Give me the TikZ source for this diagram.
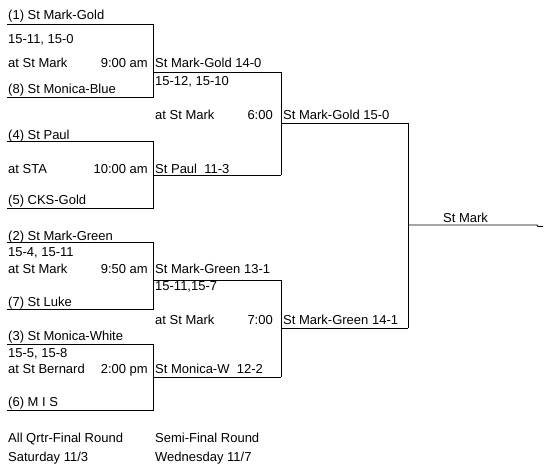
\documentclass[tikz,border=0pt]{standalone}
\usepackage{fontspec}
\setmainfont{Liberation Sans}
\begin{document}
\begin{tikzpicture}[x=1pt,y=-1pt,
  line/.style={draw=black,line width=0.9pt},
  txt/.style={inner sep=0pt,anchor=base west,font=\fontsize{13}{15}\selectfont},
  rtxt/.style={inner sep=0pt,anchor=base east,font=\fontsize{13}{15}\selectfont}]
\useasboundingbox[fill=white] (0,0) rectangle (556,468);
% bracket coordinates
\coordinate (q1a) at (7,24);   \coordinate (q1ar) at (153,24);
\coordinate (q1b) at (7,97);   \coordinate (q1br) at (153,97);
\coordinate (q1o) at (153,72); \coordinate (s1t) at (281,72);
\coordinate (q2a) at (7,141);  \coordinate (q2ar) at (153,141);
\coordinate (q2b) at (7,208);  \coordinate (q2br) at (153,208);
\coordinate (q2o) at (153,175);\coordinate (s1b) at (281,175);
\coordinate (s1o) at (281,123);\coordinate (ft) at (408,123);
\coordinate (q3a) at (7,242);  \coordinate (q3ar) at (153,242);
\coordinate (q3b) at (7,309);  \coordinate (q3br) at (153,309);
\coordinate (q3o) at (153,280);\coordinate (s2t) at (281,280);
\coordinate (q4a) at (7,344);  \coordinate (q4ar) at (153,344);
\coordinate (q4b) at (7,410);  \coordinate (q4br) at (153,410);
\coordinate (q4o) at (153,377);\coordinate (s2b) at (281,377);
\coordinate (s2o) at (281,328);\coordinate (fb) at (408,328);
\coordinate (fo) at (408,225); \coordinate (ch) at (537,225);
\coordinate (ch2) at (538,226.5); \coordinate (ch3) at (543,226.5);
% lines
\draw[line] (q1a) -- (q1ar) -- (q1br) -- (q1b);
\draw[line] (q1o) -- (s1t);
\draw[line] (q2a) -- (q2ar) -- (q2br) -- (q2b);
\draw[line] (q2o) -- (s1b);
\draw[line] (s1t) -- (s1b);
\draw[line] (s1o) -- (ft);
\draw[line] (q3a) -- (q3ar) -- (q3br) -- (q3b);
\draw[line] (q3o) -- (s2t);
\draw[line] (q4a) -- (q4ar) -- (q4br) -- (q4b);
\draw[line] (q4o) -- (s2b);
\draw[line] (s2t) -- (s2b);
\draw[line] (s2o) -- (fb);
\draw[line] (ft) -- (fb);
\draw[line] (fo) -- (ch) -- (ch2) -- (ch3);
% quarter 1
\node[txt] (t1) at (8,20) {(1) St Mark-Gold};
\node[txt] (t1s) at (8,44) {15-11, 15-0};
\node[txt] (t1v) at (8,68) {at St Mark};
\node[rtxt] (t1t) at (148,68) {9:00 am};
\node[txt] (t8) at (8,94) {(8) St Monica-Blue};
% quarter 2
\node[txt] (t4) at (8,139) {(4) St Paul};
\node[txt] (t2v) at (8,173) {at STA};
\node[rtxt] (t2t) at (148,173) {10:00 am};
\node[txt] (t5) at (8,204) {(5) CKS-Gold};
% quarter 3
\node[txt] (t2) at (8,240) {(2) St Mark-Green};
\node[txt] (t3s) at (8,256) {15-4, 15-11};
\node[txt] (t3v) at (8,273) {at St Mark};
\node[rtxt] (t3t) at (148,273) {9:50 am};
\node[txt] (t7) at (8,306) {(7) St Luke};
% quarter 4
\node[txt] (t3) at (8,340) {(3) St Monica-White};
\node[txt] (t4s) at (8,357) {15-5, 15-8};
\node[txt] (t4v) at (8,373) {at St Bernard};
\node[rtxt] (t4t) at (148,373) {2:00 pm};
\node[txt] (t6) at (8,406) {(6) M I S};
% semi 1
\node[txt] (w1) at (155,68) {St Mark-Gold 14-0};
\node[txt] (w1s) at (155,86) {15-12, 15-10};
\node[txt] (s1v) at (155,119) {at St Mark};
\node[rtxt] (s1tm) at (273,119) {6:00};
\node[txt] (w2) at (155,173) {St Paul\ \ 11-3};
% semi 2
\node[txt] (w3) at (155,273) {St Mark-Green 13-1};
\node[txt] (w3s) at (155,290) {15-11,15-7};
\node[txt] (s2v) at (155,324) {at St Mark};
\node[rtxt] (s2tm) at (273,324) {7:00};
\node[txt] (w4) at (155,373) {St Monica-W\ \ 12-2};
% final
\node[txt] (f1) at (283,119) {St Mark-Gold 15-0};
\node[txt] (f2) at (283,324) {St Mark-Green 14-1};
\node[txt] (champ) at (443,222) {St Mark};
% footer
\node[txt] (r1) at (8,442) {All Qrtr-Final Round};
\node[txt] (r1d) at (8,461) {Saturday 11/3};
\node[txt] (r2) at (155,442) {Semi-Final Round};
\node[txt] (r2d) at (155,461) {Wednesday 11/7};
\end{tikzpicture}
\end{document}
